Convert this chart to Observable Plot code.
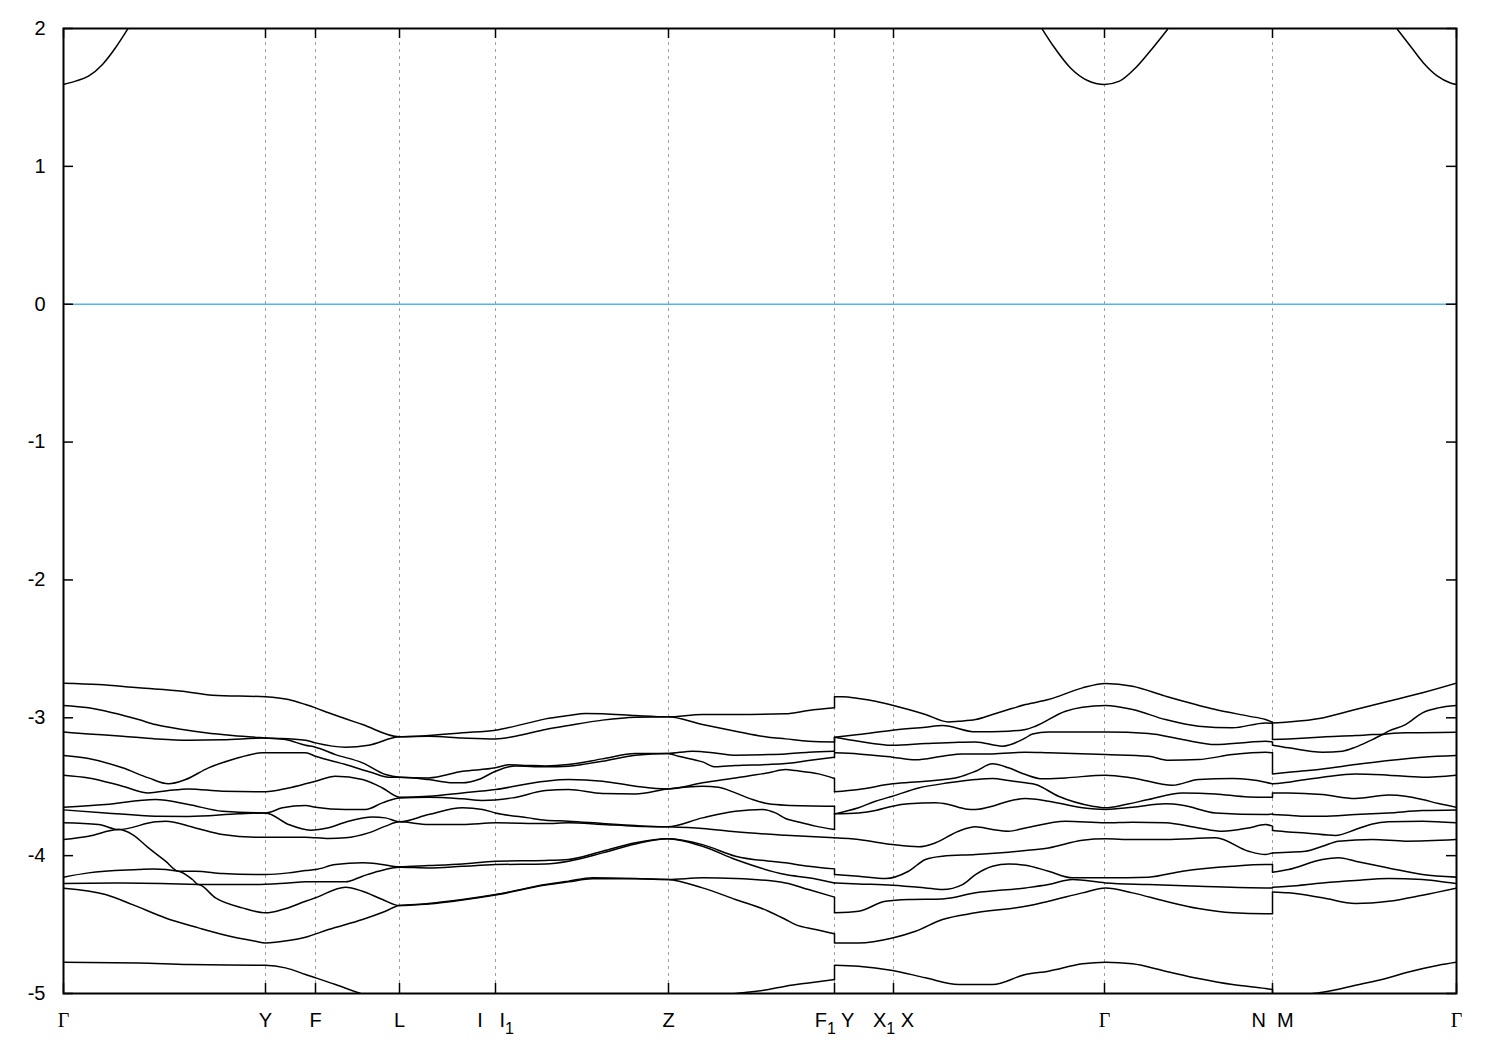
<!DOCTYPE html>
<html><head><meta charset="utf-8">
<script src="https://cdn.jsdelivr.net/npm/d3@7"></script>
<script src="https://cdn.jsdelivr.net/npm/@observablehq/plot@0.6"></script>
<style>
body{margin:0;background:#fff;}
#chart svg{display:block;}
</style></head><body><div id="chart"></div>
<script>
// High-symmetry points along the k-path (path coordinate) and their labels
const kTicks = [0, 2.02, 2.52, 3.36, 4.32, 6.05, 7.71, 8.30, 10.41, 12.09, 13.93];
const kLabels = ["Γ", "Y", "F", "L", "I   I_1", "Z", "F_1 Y", "X_1 X", "Γ", "N  M", "Γ"];
const yTicks = [-5, -4, -3, -2, -1, 0, 1, 2];

// Conduction band pieces visible below 2 eV
const conductionBand = [
  [[0,1.594],[0.12,1.618],[0.25,1.654],[0.39,1.739],[0.52,1.860],[0.64,1.993]],
  [[9.79,1.993],[9.90,1.871],[10.07,1.714],[10.24,1.623],[10.41,1.594],[10.56,1.618],[10.72,1.714],[10.88,1.848],[11.04,1.993]],
  [[13.34,1.993],[13.47,1.871],[13.60,1.750],[13.74,1.654],[13.87,1.605],[13.93,1.594]]
];

// Valence bands, Γ → Y → F → L → I|I1 → Z → F1
const bandsGammaToF1 = [
  [[0,-2.749],[0.35,-2.759],[0.75,-2.783],[1.19,-2.807],[1.49,-2.836],[2.02,-2.848],[2.25,-2.868],[2.42,-2.904],[2.52,-2.928],[2.65,-2.964],[2.99,-3.049],[3.36,-3.138],[3.65,-3.129],[3.99,-3.109],[4.32,-3.090],[4.65,-3.037],[4.82,-3.008],[5.05,-2.984],[5.22,-2.969],[5.39,-2.971],[5.72,-2.984],[6.04,-2.993],[6.39,-2.976],[6.72,-2.976],[7.22,-2.971],[7.45,-2.947],[7.71,-2.928]],
  [[0,-2.911],[0.25,-2.928],[0.49,-2.964],[0.75,-3.013],[0.92,-3.049],[1.19,-3.085],[1.42,-3.109],[1.69,-3.129],[2.02,-3.146],[2.42,-3.163],[2.52,-3.182],[2.82,-3.213],[3.05,-3.199],[3.36,-3.138],[3.65,-3.134],[3.99,-3.146],[4.32,-3.153],[4.52,-3.134],[4.82,-3.085],[5.05,-3.056],[5.39,-3.017],[5.72,-2.996],[6.04,-2.993],[6.39,-3.049],[6.72,-3.097],[7.05,-3.141],[7.22,-3.153],[7.45,-3.170],[7.71,-3.175]],
  [[0,-3.104],[0.25,-3.117],[0.59,-3.134],[0.92,-3.153],[1.25,-3.163],[1.59,-3.160],[2.02,-3.146],[2.22,-3.158],[2.42,-3.199],[2.52,-3.213],[2.72,-3.267],[2.99,-3.327],[3.22,-3.412],[3.36,-3.431],[3.65,-3.436],[3.99,-3.388],[4.32,-3.363],[4.45,-3.341],[4.65,-3.346],[4.82,-3.349],[5.05,-3.339],[5.39,-3.298],[5.72,-3.259],[6.04,-3.259],[6.29,-3.242],[6.55,-3.259],[6.72,-3.271],[7.05,-3.267],[7.22,-3.262],[7.45,-3.250],[7.71,-3.242]],
  [[0,-3.274],[0.25,-3.296],[0.59,-3.363],[0.85,-3.436],[1.05,-3.479],[1.22,-3.448],[1.45,-3.363],[1.69,-3.303],[1.99,-3.254],[2.42,-3.254],[2.52,-3.279],[2.82,-3.339],[3.09,-3.399],[3.25,-3.431],[3.36,-3.431],[3.65,-3.448],[3.89,-3.472],[3.99,-3.472],[4.15,-3.448],[4.32,-3.388],[4.52,-3.349],[4.82,-3.356],[5.05,-3.351],[5.39,-3.315],[5.72,-3.271],[6.04,-3.259],[6.15,-3.279],[6.39,-3.320],[6.52,-3.356],[6.72,-3.346],[7.05,-3.339],[7.22,-3.332],[7.45,-3.310],[7.71,-3.286]],
  [[0,-3.416],[0.25,-3.436],[0.59,-3.496],[0.85,-3.545],[1.05,-3.528],[1.25,-3.516],[1.59,-3.533],[2.02,-3.537],[2.25,-3.509],[2.42,-3.479],[2.52,-3.460],[2.72,-3.424],[2.99,-3.448],[3.19,-3.509],[3.36,-3.576],[3.65,-3.569],[3.99,-3.545],[4.32,-3.520],[4.82,-3.460],[5.05,-3.448],[5.39,-3.460],[5.72,-3.496],[6.04,-3.516],[6.39,-3.472],[6.72,-3.436],[7.05,-3.399],[7.22,-3.375],[7.32,-3.383],[7.55,-3.407],[7.71,-3.441]],
  [[0,-3.649],[0.42,-3.629],[0.92,-3.593],[1.25,-3.629],[1.59,-3.678],[2.02,-3.690],[2.19,-3.653],[2.42,-3.636],[2.52,-3.649],[2.82,-3.665],[3.02,-3.665],[3.19,-3.617],[3.36,-3.581],[3.65,-3.576],[3.99,-3.588],[4.19,-3.600],[4.49,-3.581],[4.82,-3.528],[5.05,-3.520],[5.39,-3.549],[5.72,-3.552],[6.04,-3.516],[6.39,-3.496],[6.55,-3.504],[6.72,-3.545],[6.89,-3.593],[7.05,-3.624],[7.22,-3.634],[7.71,-3.641]],
  [[0,-3.668],[0.42,-3.690],[0.92,-3.714],[1.25,-3.716],[1.75,-3.697],[2.02,-3.690],[2.25,-3.774],[2.47,-3.815],[2.65,-3.798],[2.85,-3.750],[3.09,-3.719],[3.22,-3.726],[3.36,-3.755],[3.65,-3.702],[3.99,-3.653],[4.19,-3.665],[4.32,-3.690],[4.65,-3.726],[4.82,-3.743],[5.05,-3.750],[5.39,-3.767],[5.72,-3.782],[6.04,-3.791],[6.39,-3.726],[6.72,-3.678],[6.99,-3.665],[7.12,-3.690],[7.22,-3.731],[7.32,-3.750],[7.52,-3.786],[7.71,-3.811]],
  [[0,-3.762],[0.35,-3.774],[0.55,-3.811],[0.92,-3.755],[1.02,-3.750],[1.32,-3.799],[1.59,-3.847],[1.92,-3.866],[2.42,-3.866],[2.65,-3.876],[2.82,-3.871],[3.05,-3.835],[3.22,-3.786],[3.36,-3.755],[3.65,-3.774],[3.99,-3.774],[4.32,-3.762],[4.82,-3.767],[5.05,-3.762],[5.39,-3.774],[5.72,-3.786],[6.04,-3.791],[6.39,-3.803],[6.72,-3.827],[7.22,-3.852],[7.71,-3.871]],
  [[0,-3.883],[0.25,-3.859],[0.55,-3.811],[0.69,-3.847],[0.85,-3.944],[1.02,-4.040],[1.15,-4.113],[1.32,-4.113],[1.59,-4.130],[1.92,-4.137],[2.02,-4.137],[2.25,-4.125],[2.42,-4.108],[2.52,-4.101],[2.72,-4.065],[2.99,-4.052],[3.15,-4.060],[3.36,-4.081],[3.65,-4.072],[3.99,-4.060],[4.32,-4.040],[4.82,-4.035],[5.05,-4.028],[5.39,-3.968],[5.72,-3.907],[6.04,-3.878],[6.39,-3.920],[6.72,-4.004],[7.22,-4.052],[7.45,-4.077],[7.71,-4.096]],
  [[0,-4.156],[0.25,-4.125],[0.75,-4.101],[0.90,-4.096],[1.15,-4.113],[1.29,-4.173],[1.35,-4.210],[1.59,-4.210],[1.92,-4.210],[2.25,-4.198],[2.42,-4.190],[2.82,-4.190],[2.99,-4.149],[3.15,-4.113],[3.36,-4.084],[3.65,-4.089],[3.99,-4.077],[4.32,-4.065],[4.82,-4.060],[5.05,-4.040],[5.39,-3.980],[5.72,-3.915],[6.04,-3.878],[6.39,-3.932],[6.72,-4.028],[7.22,-4.137],[7.45,-4.161],[7.71,-4.198]],
  [[0,-4.202],[0.59,-4.198],[1.35,-4.210],[1.52,-4.306],[1.79,-4.379],[2.02,-4.415],[2.19,-4.391],[2.42,-4.331],[2.52,-4.306],[2.82,-4.229],[2.99,-4.258],[3.19,-4.318],[3.36,-4.362],[3.65,-4.347],[3.99,-4.318],[4.32,-4.282],[4.82,-4.210],[5.05,-4.185],[5.29,-4.161],[5.72,-4.166],[6.04,-4.173],[6.39,-4.161],[6.72,-4.166],[7.22,-4.198],[7.45,-4.246],[7.71,-4.301]],
  [[0,-4.236],[0.42,-4.282],[0.69,-4.355],[1.02,-4.452],[1.35,-4.524],[1.59,-4.572],[1.92,-4.621],[2.02,-4.633],[2.25,-4.616],[2.42,-4.592],[2.65,-4.536],[2.99,-4.463],[3.22,-4.403],[3.36,-4.362],[3.65,-4.350],[3.99,-4.321],[4.32,-4.285],[4.82,-4.213],[5.05,-4.190],[5.29,-4.168],[5.72,-4.168],[6.04,-4.173],[6.39,-4.234],[6.72,-4.318],[7.05,-4.403],[7.22,-4.463],[7.32,-4.500],[7.52,-4.536],[7.71,-4.567]],
  [[0,-4.773],[0.75,-4.778],[1.25,-4.790],[2.02,-4.795],[2.22,-4.814],[2.42,-4.862],[2.52,-4.886],[2.72,-4.935],[2.95,-4.995],[3.4,-5.09],[4.2,-5.15],[5.2,-5.15],[6.1,-5.07],[6.69,-5.003],[7.05,-4.971],[7.22,-4.947],[7.45,-4.923],[7.71,-4.899]]
];

// Valence bands, Y → X1|X → Γ → N
const bandsYToN = [
  [[7.71,-2.848],[7.79,-2.848],[7.95,-2.860],[8.12,-2.880],[8.29,-2.909],[8.45,-2.940],[8.62,-2.976],[8.85,-3.030],[8.95,-3.025],[9.12,-3.013],[9.29,-2.976],[9.45,-2.940],[9.62,-2.904],[9.85,-2.868],[10.19,-2.783],[10.42,-2.751],[10.69,-2.771],[11.02,-2.843],[11.52,-2.940],[11.85,-2.988],[12.02,-3.013],[12.09,-3.032]],
  [[7.71,-3.141],[7.95,-3.122],[8.29,-3.090],[8.62,-3.068],[8.79,-3.056],[9.12,-3.102],[9.45,-3.097],[9.62,-3.085],[9.72,-3.061],[10.02,-2.952],[10.19,-2.923],[10.42,-2.911],[10.69,-2.940],[11.02,-3.013],[11.35,-3.061],[11.69,-3.073],[12.02,-3.037],[12.09,-3.040]],
  [[7.71,-3.141],[7.95,-3.170],[8.29,-3.199],[8.62,-3.187],[8.95,-3.177],[9.12,-3.175],[9.39,-3.206],[9.62,-3.146],[9.69,-3.117],[9.85,-3.104],[10.42,-3.104],[10.85,-3.114],[11.19,-3.158],[11.52,-3.194],[11.85,-3.177],[12.02,-3.170],[12.09,-3.175]],
  [[7.71,-3.254],[7.95,-3.262],[8.29,-3.286],[8.52,-3.305],[8.79,-3.279],[8.99,-3.262],[9.29,-3.262],[9.62,-3.250],[9.85,-3.254],[10.42,-3.267],[10.85,-3.279],[11.05,-3.308],[11.35,-3.303],[11.69,-3.267],[12.02,-3.250],[12.09,-3.254]],
  [[7.71,-3.537],[7.95,-3.520],[8.29,-3.479],[8.62,-3.460],[8.95,-3.431],[9.12,-3.388],[9.29,-3.334],[9.45,-3.363],[9.62,-3.412],[9.79,-3.443],[10.02,-3.436],[10.42,-3.416],[10.69,-3.436],[11.09,-3.489],[11.35,-3.448],[11.69,-3.441],[12.02,-3.467],[12.09,-3.479]],
  [[7.71,-3.697],[7.95,-3.653],[8.12,-3.605],[8.29,-3.569],[8.55,-3.509],[8.85,-3.472],[9.12,-3.448],[9.29,-3.441],[9.45,-3.455],[9.62,-3.472],[9.72,-3.484],[9.95,-3.569],[10.29,-3.641],[10.42,-3.653],[10.62,-3.629],[10.85,-3.593],[11.19,-3.545],[11.52,-3.552],[11.85,-3.574],[12.09,-3.576]],
  [[7.71,-3.697],[7.95,-3.690],[8.12,-3.673],[8.29,-3.641],[8.45,-3.624],[8.72,-3.617],[8.85,-3.629],[9.02,-3.661],[9.12,-3.665],[9.29,-3.641],[9.45,-3.605],[9.62,-3.586],[9.85,-3.605],[10.19,-3.653],[10.42,-3.665],[10.69,-3.649],[11.02,-3.624],[11.19,-3.634],[11.52,-3.690],[12.02,-3.702],[12.09,-3.697]],
  [[7.71,-3.871],[7.95,-3.883],[8.29,-3.920],[8.55,-3.936],[8.72,-3.907],[8.95,-3.823],[9.12,-3.791],[9.29,-3.811],[9.45,-3.823],[9.62,-3.799],[10.02,-3.750],[10.42,-3.762],[10.69,-3.757],[11.02,-3.762],[11.35,-3.799],[11.59,-3.823],[11.85,-3.799],[12.02,-3.774],[12.09,-3.786]],
  [[7.71,-4.137],[7.95,-4.149],[8.22,-4.166],[8.45,-4.113],[8.62,-4.028],[8.79,-4.004],[9.12,-3.992],[9.62,-3.963],[9.85,-3.944],[10.19,-3.888],[10.42,-3.878],[10.69,-3.883],[11.02,-3.883],[11.52,-3.871],[11.85,-3.968],[12.02,-3.992],[12.09,-3.980]],
  [[7.71,-4.198],[7.95,-4.205],[8.29,-4.214],[8.62,-4.234],[8.79,-4.246],[8.99,-4.210],[9.12,-4.137],[9.29,-4.077],[9.45,-4.060],[9.62,-4.069],[9.85,-4.113],[10.09,-4.161],[10.42,-4.161],[10.85,-4.156],[11.19,-4.113],[11.69,-4.077],[12.02,-4.065],[12.09,-4.065]],
  [[7.71,-4.415],[7.95,-4.403],[8.22,-4.331],[8.45,-4.318],[8.79,-4.314],[9.12,-4.270],[9.62,-4.234],[9.85,-4.210],[10.09,-4.173],[10.42,-4.198],[10.85,-4.210],[11.35,-4.222],[12.02,-4.234],[12.09,-4.234]],
  [[7.71,-4.633],[7.95,-4.633],[8.29,-4.597],[8.52,-4.548],[8.79,-4.463],[9.12,-4.415],[9.62,-4.367],[9.85,-4.331],[10.19,-4.270],[10.42,-4.234],[10.69,-4.270],[11.02,-4.331],[11.35,-4.384],[11.69,-4.415],[12.02,-4.422],[12.09,-4.422]],
  [[7.71,-4.795],[7.95,-4.802],[8.29,-4.833],[8.62,-4.886],[8.95,-4.935],[9.29,-4.935],[9.62,-4.862],[9.85,-4.838],[10.19,-4.785],[10.42,-4.773],[10.69,-4.785],[11.02,-4.838],[11.35,-4.891],[11.69,-4.935],[12.02,-4.964],[12.09,-4.971]]
];

// Valence bands, M → Γ
const bandsMToGamma = [
  [[12.09,-3.037],[12.25,-3.030],[12.59,-3.001],[12.92,-2.940],[13.25,-2.880],[13.59,-2.819],[13.93,-2.749]],
  [[12.09,-3.158],[12.25,-3.153],[12.59,-3.139],[12.92,-3.129],[13.09,-3.122],[13.19,-3.119],[13.25,-3.097],[13.42,-3.049],[13.59,-2.964],[13.75,-2.928],[13.93,-2.911]],
  [[12.09,-3.199],[12.25,-3.218],[12.59,-3.250],[12.79,-3.242],[12.92,-3.213],[13.09,-3.158],[13.21,-3.119],[13.42,-3.109],[13.93,-3.104]],
  [[12.09,-3.407],[12.25,-3.395],[12.59,-3.371],[12.92,-3.339],[13.25,-3.310],[13.59,-3.286],[13.93,-3.274]],
  [[12.09,-3.479],[12.25,-3.467],[12.59,-3.431],[12.92,-3.407],[13.25,-3.416],[13.59,-3.431],[13.93,-3.416]],
  [[12.09,-3.545],[12.25,-3.545],[12.59,-3.557],[12.92,-3.586],[13.25,-3.561],[13.42,-3.569],[13.59,-3.593],[13.75,-3.622],[13.93,-3.649]],
  [[12.09,-3.702],[12.25,-3.707],[12.42,-3.714],[12.59,-3.714],[12.92,-3.702],[13.25,-3.690],[13.59,-3.673],[13.93,-3.668]],
  [[12.09,-3.818],[12.25,-3.828],[12.42,-3.835],[12.72,-3.854],[12.92,-3.811],[13.09,-3.770],[13.25,-3.755],[13.59,-3.750],[13.93,-3.762]],
  [[12.09,-3.980],[12.25,-3.975],[12.42,-3.968],[12.59,-3.932],[12.75,-3.895],[13.09,-3.883],[13.42,-3.895],[13.93,-3.883]],
  [[12.09,-4.120],[12.25,-4.101],[12.59,-4.028],[12.75,-4.016],[12.92,-4.040],[13.25,-4.089],[13.59,-4.137],[13.93,-4.156]],
  [[12.09,-4.229],[12.25,-4.222],[12.59,-4.198],[12.92,-4.180],[13.25,-4.166],[13.59,-4.173],[13.75,-4.185],[13.93,-4.202]],
  [[12.09,-4.263],[12.25,-4.270],[12.59,-4.306],[12.92,-4.347],[13.25,-4.331],[13.59,-4.287],[13.93,-4.236]],
  [[12.09,-5.040],[12.42,-5.007],[12.59,-4.991],[12.92,-4.940],[13.25,-4.886],[13.42,-4.850],[13.75,-4.795],[13.93,-4.773]]
];

// ---- build tables for the marks ----
const segments = [bandsGammaToF1, bandsYToN, bandsMToGamma];
const rows = [];
segments.forEach((seg, s) => seg.forEach((band, b) =>
  band.forEach(([k, E]) => rows.push({k, E, id: "v" + s + "-" + b}))));
conductionBand.forEach((piece, p) =>
  piece.forEach(([k, E]) => rows.push({k, E, id: "c" + p})));

const jumps = [];
for (let s = 0; s < segments.length - 1; s++) {
  segments[s].forEach((band, b) => {
    const a = band[band.length - 1];
    const c = segments[s + 1][b][0];
    jumps.push({k: a[0], y1: a[1], y2: c[1]});
  });
}
const labelData = kTicks.map((k, i) => ({k, label: kLabels[i]}));

const W = 1500, H = 1050, mL = 63, mR = 44, mT = 28, mB = 57;
const innerW = W - mL - mR, innerH = H - mT - mB;
const font = "'Liberation Sans', Arial, Helvetica, sans-serif";

const chart = Plot.plot({
  width: W, height: H,
  marginLeft: mL, marginRight: mR, marginTop: mT, marginBottom: mB,
  style: {fontFamily: font, fontSize: "20px", background: "white", color: "black"},
  x: {domain: [0, 13.93], axis: null},
  y: {domain: [-5, 2], axis: null},
  marks: [
    Plot.ruleX(kTicks.slice(1, -1), {stroke: "#a0a0a0", strokeWidth: 1, strokeDasharray: "3,4"}),
    Plot.ruleY([0], {stroke: "#56b4e9", strokeWidth: 1.5}),
    Plot.line(rows, {x: "k", y: "E", z: "id", curve: "monotone-x", stroke: "black", strokeWidth: 1.5, clip: true}),
    Plot.link(jumps, {x1: "k", x2: "k", y1: "y1", y2: "y2", stroke: "black", strokeWidth: 1.5, clip: true}),
    Plot.tickY(yTicks, {y: d => d, insetRight: innerW - 10, stroke: "black", strokeWidth: 1.5}),
    Plot.tickY(yTicks, {y: d => d, insetLeft: innerW - 10, stroke: "black", strokeWidth: 1.5}),
    Plot.tickX(kTicks, {x: d => d, insetTop: innerH - 10, stroke: "black", strokeWidth: 1.5}),
    Plot.tickX(kTicks, {x: d => d, insetBottom: innerH - 10, stroke: "black", strokeWidth: 1.5}),
    Plot.frame({stroke: "black", strokeWidth: 2}),
    Plot.text(yTicks, {y: d => d, text: d => String(d), frameAnchor: "left", textAnchor: "end", dx: -18, fontSize: 20}),
    Plot.text(labelData, {x: "k", text: "label", frameAnchor: "bottom", dy: 27, lineAnchor: "middle", fontSize: 20})
  ]
});

// subscripts and the serif Γ of the k-point labels
const NS = "http://www.w3.org/2000/svg";
chart.querySelectorAll('g[aria-label="text"] text').forEach(t => {
  const s = t.textContent;
  if (!/[_Γ]/.test(s)) return;
  while (t.firstChild) t.removeChild(t.firstChild);
  let shift = 0;
  for (const p of s.match(/_\d|Γ|[^_Γ]+/g)) {
    const ts = document.createElementNS(NS, "tspan");
    if (p[0] === "_") {
      ts.textContent = p.slice(1);
      ts.setAttribute("font-size", "16");
      ts.setAttribute("dy", String(7 - shift));
      shift = 7;
    } else {
      ts.textContent = p;
      ts.setAttribute("dy", String(-shift));
      shift = 0;
      if (p === "Γ") ts.setAttribute("font-family", "'Liberation Serif', 'DejaVu Serif', serif");
    }
    t.appendChild(ts);
  }
});
chart.querySelectorAll('g[aria-label="text"] text').forEach(t => t.style.whiteSpace = "pre");
document.getElementById("chart").appendChild(chart);
</script>
</body></html>
